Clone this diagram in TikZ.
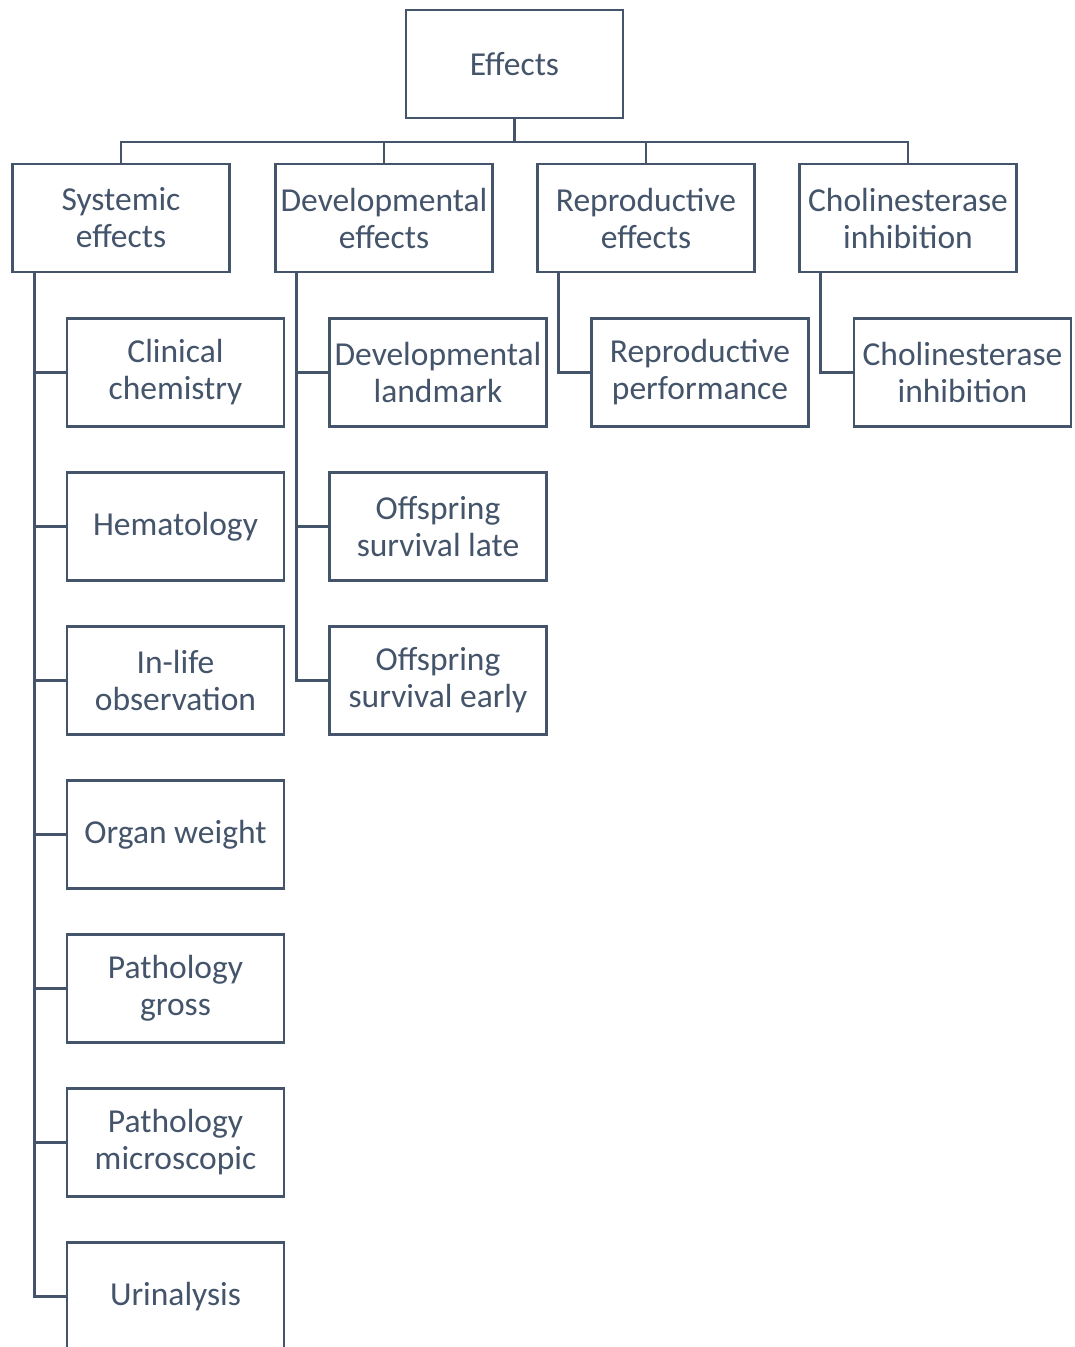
\documentclass[tikz,border=0pt]{standalone}
\usepackage{fontspec}
\setmainfont{Carlito}
\usetikzlibrary{positioning}
\definecolor{slate}{HTML}{44546A}

\begin{document}
\begin{tikzpicture}[
  x=1pt,y=-1pt,
  box/.style={draw=slate,line width=2.8pt,fill=white,text=slate,align=center,
    minimum width=217pt,minimum height=108pt,inner sep=0pt,
    font=\fontsize{33.5}{37}\selectfont},
  link/.style={draw=slate,line width=2.8pt}
]
  \useasboundingbox (0,0) rectangle (1074,1347);

  % top
  \node[box] (eff) at (514.5,64) {Effects};
  \coordinate (bus) at (514.5,142);

  % groups
  \node[box] (sys) at (121,218) {Systemic\\effects};
  \node[box] (dev) at (384,218) {Developmental\\effects};
  \node[box] (rep) at (646,218) {Reproductive\\effects};
  \node[box] (che) at (908,218) {Cholinesterase\\inhibition};

  \draw[link] (eff.south) -- (bus);
  \draw[link] (bus) -| (sys.north);
  \draw[link] (bus) -| (dev.north);
  \draw[link] (bus) -| (rep.north);
  \draw[link] (bus) -| (che.north);

  % systemic effects
  \node[box] (clin) at (175.5,372.5) {Clinical\\chemistry};
  \node[box] (hema) at (175.5,526.5) {Hematology};
  \node[box] (life) at (175.5,680.5) {In-life\\observation};
  \node[box] (organ) at (175.5,834.5) {Organ weight};
  \node[box] (pgross) at (175.5,988.5) {Pathology\\gross};
  \node[box] (pmicro) at (175.5,1142.5) {Pathology\\microscopic};
  \node[box] (urin) at (175.5,1296.5) {Urinalysis};
  \foreach \c in {clin,hema,life,organ,pgross,pmicro,urin}
    \draw[link] ([xshift=23pt]sys.south west) |- (\c.west);

  % developmental effects
  \node[box] (land) at (438,372.5) {Developmental\\landmark};
  \node[box] (late) at (438,526.5) {Offspring\\survival late};
  \node[box] (early) at (438,680.5) {Offspring\\survival early};
  \foreach \c in {land,late,early}
    \draw[link] ([xshift=22pt]dev.south west) |- (\c.west);

  % reproductive effects
  \node[box] (perf) at (700,372.5) {Reproductive\\performance};
  \draw[link] ([xshift=22pt]rep.south west) |- (perf.west);

  % cholinesterase inhibition
  \node[box] (chinh) at (962.5,372.5) {Cholinesterase\\inhibition};
  \draw[link] ([xshift=22pt]che.south west) |- (chinh.west);
\end{tikzpicture}
\end{document}
